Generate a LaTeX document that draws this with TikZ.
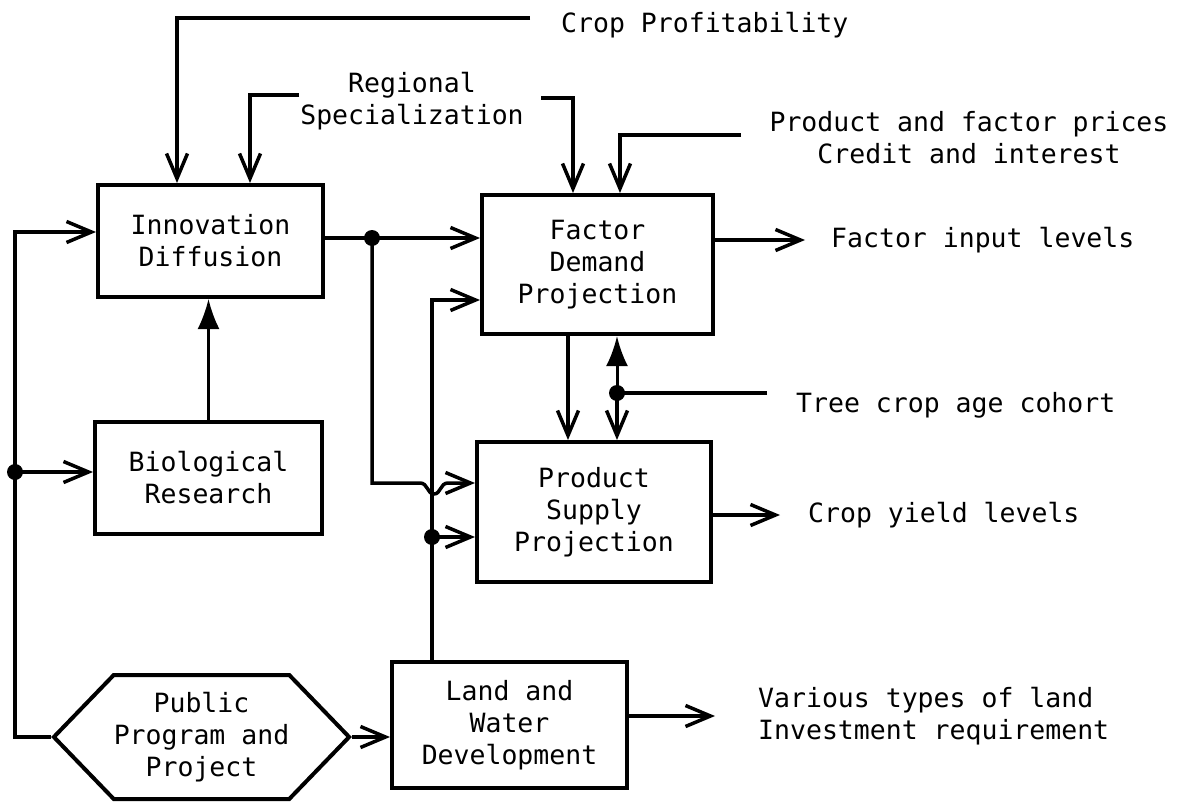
\documentclass[tikz,border=0pt]{standalone}
\usepackage{fontspec}
\usetikzlibrary{arrows.meta,shapes.symbols}
\newfontfamily\typefont{DejaVu Sans Mono}
\tikzset{
  box/.style={draw, line width=4pt, align=center, inner sep=0pt,
    font=\typefont\fontsize{26.5}{32}\selectfont},
  lbl/.style={align=center, inner sep=0pt, font=\typefont\fontsize{26.5}{32}\selectfont},
  link/.style={line width=3.5pt, -{Straight Barb[length=25pt,width=21pt]}},
  fat/.style={line width=3pt, -{Latex[length=30pt,width=22pt]}},
}

\begin{document}
\begin{tikzpicture}[x=1pt, y=-1pt]
    \useasboundingbox (0,0) rectangle (1192,803);

    % blocks
    \node[box, minimum width=225pt, minimum height=112pt] (innov) at (210.5,241) {Innovation\\Diffusion};
    \node[box, minimum width=227pt, minimum height=112pt] (bio) at (208.5,478) {Biological\\Research};
    \node[box, minimum width=231pt, minimum height=139pt] (factor) at (597.5,264.5) {Factor\\Demand\\Projection};
    \node[box, minimum width=234pt, minimum height=140pt] (supply) at (594,512) {Product\\Supply\\Projection};
    \node[box, minimum width=235pt, minimum height=126pt] (land) at (509.5,725) {Land and\\Water\\Development};
    \node[box, signal, signal to=west and east, signal pointer angle=92,
        minimum width=289pt, minimum height=124pt] (public) at (201.5,737) {Public\\Program and\\Project};

    % outside labels
    \node[lbl, anchor=west] (crop) at (561,25) {Crop Profitability};
    \node[lbl] (region) at (412,101) {Regional\\Specialization};
    \node[lbl] (prices) at (969,138) {Product and factor prices\\Credit and interest};
    \node[lbl, anchor=west] (fin) at (831,240) {Factor input levels};
    \node[lbl, anchor=west] (tree) at (796,405) {Tree crop age cohort};
    \node[lbl, anchor=west] (yield) at (808,515) {Crop yield levels};
    \node[lbl, anchor=west, align=left] (invest) at (758,716) {Various types of land\\Investment requirement};

    \coordinate (cropend) at (530,18);
    \coordinate (regl) at (299,95);
    \coordinate (regr) at (541,98);
    \coordinate (prc) at (741,135);
    \coordinate (j1) at (372,238);
    \coordinate (hop) at (448,483);
    \coordinate (up2) at (432,300);
    \coordinate (j2) at (432,537);
    \coordinate (j3) at (617,393);
    \coordinate (treeend) at (767,393);
    \coordinate (lt) at (15,232);
    \coordinate (j4) at (15,472);

    % inputs from the top
    \draw[link] (cropend) -| ([xshift=-33.5pt]innov.north);
    \draw[link] (regl) -| ([xshift=39.5pt]innov.north);
    \draw[link] (regr) -| ([xshift=-24.5pt]factor.north);
    \draw[link] (prc) -| ([xshift=22.5pt]factor.north);

    % innovation to factor and supply
    \draw[link] (innov.east |- j1) -- (factor.west |- j1);
    \draw[link] (j1) |- (420,483) .. controls (428,483) and (427,494) .. (434,494)
        .. controls (441,494) and (440,483) .. (hop) -- (supply.west |- hop);
    \fill (j1) circle (8pt);

    % land and water
    \draw[link] ([xshift=-77.5pt]land.north) |- (factor.west |- up2);
    \draw[link] (j2) -- (supply.west |- j2);
    \fill (j2) circle (8pt);

    % factor and supply
    \draw[link] ([xshift=-29.5pt]factor.south) -- ([xshift=-29.5pt]factor.south |- supply.north);
    \draw[fat] (j3) -- (factor.south -| j3);
    \draw[link] (j3) -- (supply.north -| j3);
    \draw[line width=3.5pt] (treeend) -- (j3);
    \fill (j3) circle (8pt);

    % outputs
    \draw[link] (factor.east |- fin) -- ([xshift=-26pt]fin.west);
    \draw[link] (supply.east |- yield) -- ([xshift=-28pt]yield.west);
    \draw[link] (land.east |- invest) -- ([xshift=-43pt]invest.west);

    % public program
    \draw[link] (public.west) -| (lt) -- (innov.west |- lt);
    \draw[link] (j4) -- (bio.west |- j4);
    \fill (j4) circle (8pt);
    \draw[link] (public.east) -- (land.west |- public.east);
    \draw[fat, line width=2.5pt] (bio.north) -- (innov.south -| bio.north);
\end{tikzpicture}
\end{document}
